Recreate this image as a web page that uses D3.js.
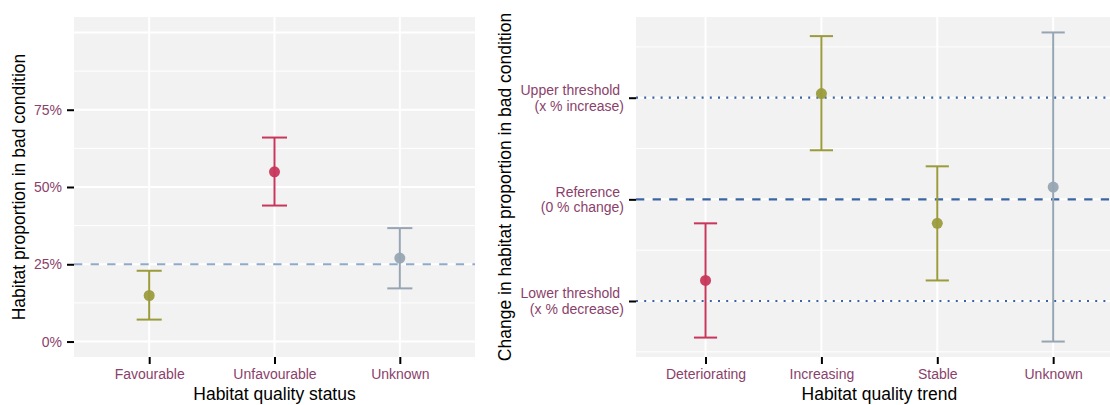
<!DOCTYPE html>
<html>
<head>
<meta charset="utf-8">
<script src="https://cdn.jsdelivr.net/npm/d3@7"></script>
<style>
  body { margin: 0; background: #fff; }
  svg { font-family: "Liberation Sans", Arial, sans-serif; display: block; }
</style>
</head>
<body>
<svg id="chart" width="1110" height="405"></svg>
<script>
// === Data ===
const statusCats = ["Favourable", "Unfavourable", "Unknown"];
const statusMid = [0.149, 0.549, 0.270];
const statusLow = [0.071, 0.440, 0.172];
const statusHigh = [0.229, 0.660, 0.367];
const statusColors = ["#9b9b3c", "#c8375b", "#97a5b3"];
const statusTicks = [0, 0.25, 0.5, 0.75];
const statusRef = 0.25;

// trend values in threshold units (1 = x % change)
const trendCats = ["Deteriorating", "Increasing", "Stable", "Unknown"];
const trendMid = [-0.798, 1.041, -0.236, 0.121];
const trendLow = [-1.360, 0.483, -0.798, -1.399];
const trendHigh = [-0.236, 1.606, 0.325, 1.642];
const trendColors = ["#c8375b", "#9b9b3c", "#9b9b3c", "#97a5b3"];
const trendTicks = [-1, 0, 1];
const trendTickLabels = [["Lower threshold ", "(x % decrease)"], ["Reference ", "(0 % change)"], ["Upper threshold ", "(x % increase)"]];

const labelColor = "#8b3f6b";
const svg = d3.select("#chart");

function panel(opts) {
  const { left, right, top, bottom } = opts;
  const g = svg.append("g");

  const x = d3.scalePoint().domain(opts.cats).range([left, right]).padding(0.6);
  const y = d3.scaleLinear().domain(opts.yDomain).range([bottom, top]);
  const step = x.step();

  g.append("rect").attr("x", left).attr("y", top)
    .attr("width", right - left).attr("height", bottom - top).attr("fill", "#f2f2f2");

  // grid
  g.selectAll(".minor").data(opts.minor).enter().append("line")
    .attr("x1", left).attr("x2", right).attr("y1", d => y(d)).attr("y2", d => y(d))
    .attr("stroke", "#fff").attr("stroke-width", 1);
  g.selectAll(".major").data(opts.major).enter().append("line")
    .attr("x1", left).attr("x2", right).attr("y1", d => y(d)).attr("y2", d => y(d))
    .attr("stroke", "#fff").attr("stroke-width", 2);
  g.selectAll(".vgrid").data(opts.cats).enter().append("line")
    .attr("x1", d => x(d)).attr("x2", d => x(d)).attr("y1", top).attr("y2", bottom)
    .attr("stroke", "#fff").attr("stroke-width", 2);

  // reference lines
  opts.refs.forEach(r => {
    g.append("line").attr("x1", left).attr("x2", right).attr("y1", y(r.value)).attr("y2", y(r.value))
      .attr("stroke", r.color).attr("stroke-width", r.width || 2).attr("stroke-dasharray", r.dash);
  });

  // error bars
  const rows = opts.cats.map((c, i) => ({ c, mid: opts.mid[i], lo: opts.low[i], hi: opts.high[i], col: opts.colors[i] }));
  const eb = g.selectAll(".eb").data(rows).enter().append("g");
  eb.append("line").attr("x1", d => x(d.c)).attr("x2", d => x(d.c))
    .attr("y1", d => y(d.lo)).attr("y2", d => y(d.hi)).attr("stroke", d => d.col).attr("stroke-width", 2);
  ["lo", "hi"].forEach(k => {
    eb.append("line").attr("x1", d => x(d.c) - step * 0.1).attr("x2", d => x(d.c) + step * 0.1)
      .attr("y1", d => y(d[k])).attr("y2", d => y(d[k])).attr("stroke", d => d.col).attr("stroke-width", 2);
  });
  eb.append("circle").attr("cx", d => x(d.c)).attr("cy", d => y(d.mid)).attr("r", 5.5)
    .attr("fill", d => d.col).attr("opacity", 0.95);

  // x axis
  const xa = g.append("g").attr("transform", `translate(0,${bottom})`)
    .call(d3.axisBottom(x).tickSize(7).tickPadding(5));
  xa.select(".domain").remove();
  xa.selectAll(".tick line").attr("stroke", "#000").attr("stroke-width", 2);
  xa.selectAll(".tick text").attr("fill", labelColor).style("font-size", "14px");

  // y axis
  const ya = g.append("g").attr("transform", `translate(${left},0)`)
    .call(d3.axisLeft(y).tickValues(opts.ticks).tickSize(7).tickPadding(5).tickFormat(opts.tickFormat || null));
  ya.select(".domain").remove();
  ya.selectAll(".tick line").attr("stroke", "#000").attr("stroke-width", 2);
  ya.selectAll(".tick text").attr("fill", labelColor).style("font-size", "14px");
  if (opts.tickLines) {
    ya.selectAll(".tick text").text(null).attr("dy", null).each(function(d, i) {
      const t = d3.select(this).attr("xml:space", "preserve");
      opts.tickLines[i].forEach((s, j) => {
        t.append("tspan").attr("x", -12).attr("y", j === 0 ? -3 : 12.5).text(s);
      });
    });
  }

  // titles
  svg.append("text").attr("x", (left + right) / 2).attr("y", 400)
    .attr("text-anchor", "middle").style("font-size", "17.5px").attr("fill", "#000").text(opts.xTitle);
  svg.append("text").attr("transform", `translate(${opts.yTitleX},${(top + bottom) / 2}) rotate(-90)`)
    .attr("text-anchor", "middle").style("font-size", "17.5px").attr("fill", "#000").text(opts.yTitle);
}

// expand by 5% like ggplot
function expand(lo, hi) {
  const p = (hi - lo) * 0.05;
  return [lo - p, hi + p];
}

panel({
  left: 74, right: 475, top: 17, bottom: 357,
  cats: statusCats, mid: statusMid, low: statusLow, high: statusHigh, colors: statusColors,
  yDomain: expand(0, 1),
  ticks: statusTicks,
  tickFormat: d3.format(".0%"),
  major: [0, 0.25, 0.5, 0.75, 1],
  minor: [0.125, 0.375, 0.625, 0.875],
  refs: [{ value: statusRef, color: "#8ea9c9", dash: "8.3,8.3" }],
  xTitle: "Habitat quality status",
  yTitle: "Habitat proportion in bad condition",
  yTitleX: 25
});

panel({
  left: 636, right: 1122.7, top: 17, bottom: 357,
  cats: trendCats, mid: trendMid, low: trendLow, high: trendHigh, colors: trendColors,
  yDomain: expand(d3.min(trendLow), d3.max(trendHigh)),
  ticks: trendTicks,
  tickLines: trendTickLabels,
  major: [-1, 0, 1],
  minor: [-1.5, -0.5, 0.5, 1.5],
  refs: [
    { value: 0, color: "#3a64a0", dash: "8.3,8.3", width: 2.2 },
    { value: 1, color: "#3a64a0", dash: "2,6.2", width: 2.2 },
    { value: -1, color: "#3a64a0", dash: "2,6.2", width: 2.2 }
  ],
  xTitle: "Habitat quality trend",
  yTitle: "Change in habitat proportion in bad condition",
  yTitleX: 511
});
</script>
</body>
</html>
